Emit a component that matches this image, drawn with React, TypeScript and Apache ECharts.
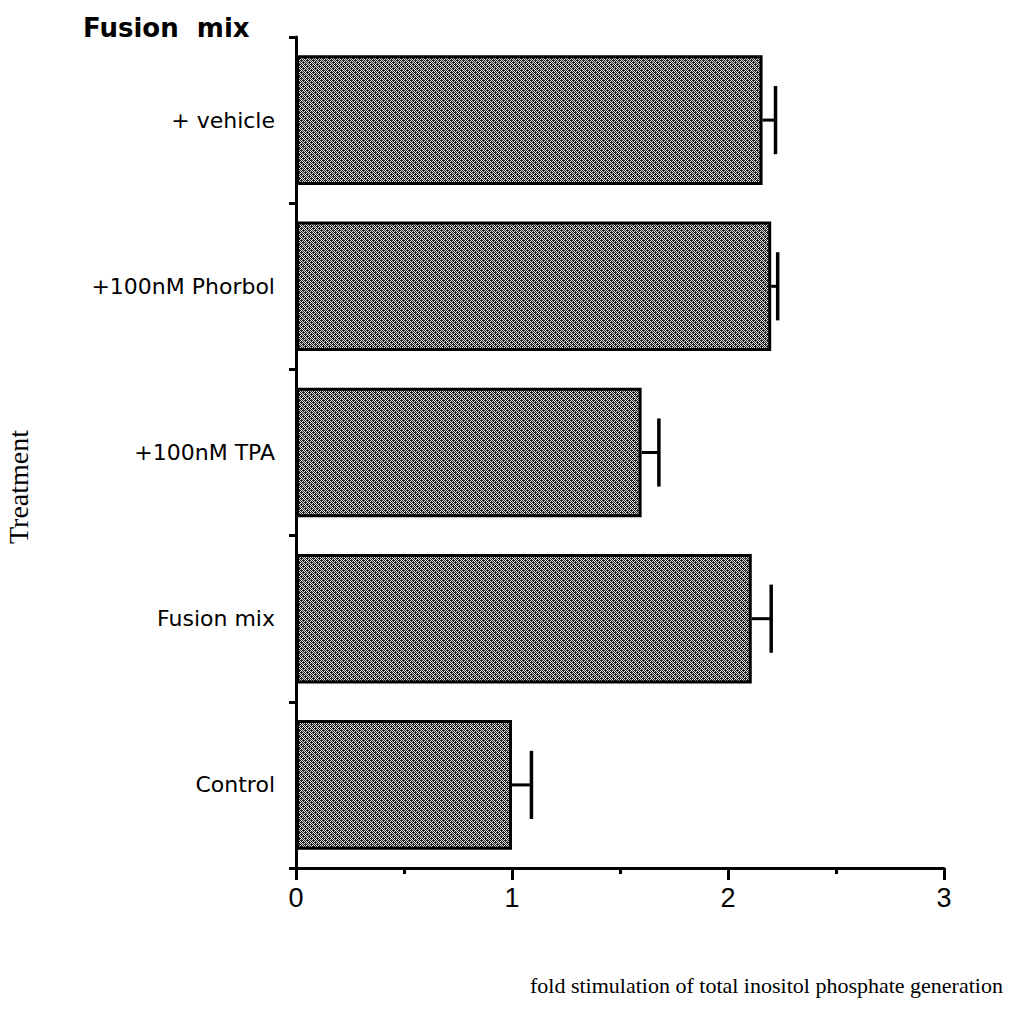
import React, { useEffect, useRef } from "react";
import * as echarts from "echarts";

const categories = ["+ vehicle", "+100nM Phorbol", "+100nM TPA", "Fusion mix", "Control"];
const values = [2.16, 2.2, 1.6, 2.11, 1.0];
const errors = [0.06, 0.03, 0.08, 0.09, 0.09];
const xTicks = [0, 1, 2, 3];
const title = "Fusion  mix";
const xName = "fold stimulation of total inositol phosphate generation";
const yName = "Treatment";

function makePattern(): string {
  const n = 6;
  const c = document.createElement("canvas");
  c.width = n;
  c.height = n;
  const ctx = c.getContext("2d")!;
  for (let y = 0; y < n; y++) {
    for (let x = 0; x < n; x++) {
      let dark = (x + y) % 2 === 0;
      if (!dark && (x + 2 * y) % 6 === 1) dark = true;
      ctx.fillStyle = dark ? "#202020" : "#dedede";
      ctx.fillRect(x, y, 1, 1);
    }
  }
  return c.toDataURL();
}

export default function App() {
  const ref = useRef<HTMLDivElement>(null);
  useEffect(() => {
    document.body.style.margin = "0";
    const chart = echarts.init(ref.current!, null, { renderer: "svg" });
    const pattern = makePattern();
    const errData = values.map((v, i) => [v, i, errors[i]]);
    chart.setOption({
      animation: false,
      backgroundColor: "#ffffff",
      grid: { left: 296, right: 67, top: 37, bottom: 154, containLabel: false },
      xAxis: {
        type: "value",
        min: xTicks[0],
        max: xTicks[xTicks.length - 1],
        interval: 1,
        axisLine: { show: true, lineStyle: { color: "#000", width: 3 } },
        axisTick: { show: true, length: 12, lineStyle: { color: "#000", width: 3 } },
        minorTick: { show: true, splitNumber: 2, length: 6, lineStyle: { color: "#000", width: 3 } },
        splitLine: { show: false },
        axisLabel: {
          color: "#000",
          fontFamily: "Liberation Sans",
          fontSize: 27,
          margin: 16,
        },
      },
      yAxis: {
        type: "category",
        data: categories,
        inverse: true,
        axisLine: { show: true, lineStyle: { color: "#000", width: 3 } },
        axisTick: { show: true, length: 7, lineStyle: { color: "#000", width: 3 } },
        splitLine: { show: false },
        axisLabel: {
          color: "#000",
          fontFamily: "DejaVu Sans",
          fontSize: 22,
          margin: 21,
        },
      },
      graphic: [
        {
          type: "text",
          left: 83,
          top: 15,
          style: {
            text: title,
            fill: "#000",
            font: "bold 26px 'DejaVu Sans'",
          },
        },
        {
          type: "text",
          left: 530,
          top: 974,
          style: {
            text: xName,
            fill: "#000",
            font: "22px 'Liberation Serif'",
          },
        },
        {
          type: "text",
          x: 18,
          y: 487,
          rotation: Math.PI / 2,
          style: {
            text: yName,
            fill: "#000",
            font: "28px 'Liberation Serif'",
            textAlign: "center",
            textVerticalAlign: "middle",
          },
        },
      ],
      series: [
        {
          type: "bar",
          data: values,
          barCategoryGap: "22%",
          itemStyle: {
            color: { image: pattern, repeat: "repeat", imageWidth: 6, imageHeight: 6 },
            borderColor: "#000",
            borderWidth: 3,
          },
          z: 2,
        },
        {
          type: "custom",
          data: errData,
          encode: { x: 0, y: 1 },
          z: 3,
          renderItem: (params: any, api: any) => {
            const v = api.value(0);
            const idx = api.value(1);
            const e = api.value(2);
            const p0 = api.coord([v, idx]);
            const p1 = api.coord([v + e, idx]);
            const band = api.size([0, 1])[1];
            const half = band * 0.205;
            return {
              type: "group",
              children: [
                {
                  type: "line",
                  shape: { x1: p0[0], y1: p0[1], x2: p1[0], y2: p1[1] },
                  style: { stroke: "#000", lineWidth: 3 },
                },
                {
                  type: "line",
                  shape: { x1: p1[0], y1: p1[1] - half, x2: p1[0], y2: p1[1] + half },
                  style: { stroke: "#000", lineWidth: 3.5 },
                },
              ],
            };
          },
        },
      ],
    });
    return () => chart.dispose();
  }, []);
  return <div ref={ref} style={{ width: 1011, height: 1022 }} />;
}
